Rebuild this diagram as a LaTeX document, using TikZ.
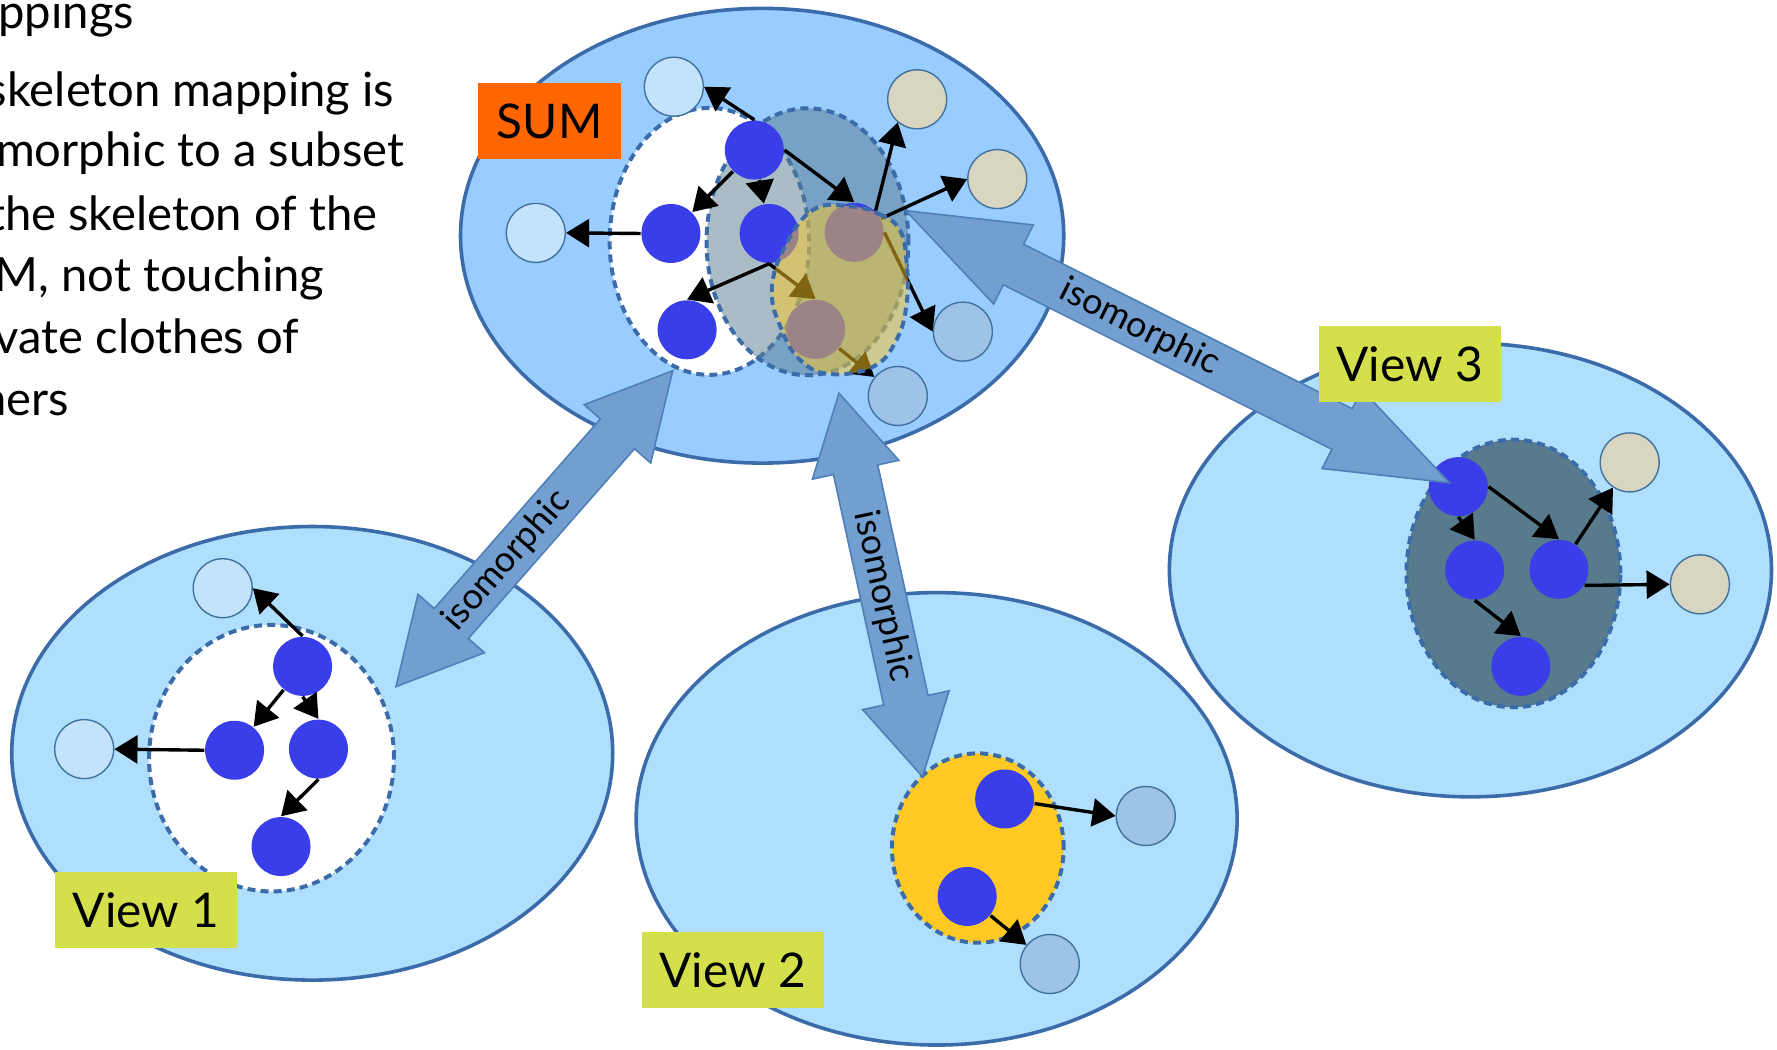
\documentclass[tikz,border=0pt]{standalone}
\usepackage{fontspec}
\setmainfont{Lato}
\usetikzlibrary{arrows.meta,calc,shapes.geometric}
\definecolor{sumfill}{HTML}{99CCFF}
\definecolor{viewfill}{HTML}{AFDFFD}
\definecolor{ellborder}{HTML}{3B6BA8}
\definecolor{isofill}{HTML}{729FCF}
\definecolor{isoborder}{HTML}{4F7FB8}
\definecolor{lightnode}{HTML}{C2E3FB}
\definecolor{tannode}{HTML}{D8D5C0}
\definecolor{mednode}{HTML}{9DC3E6}
\definecolor{bluenode}{HTML}{3A3EE8}
\definecolor{nodeborder}{HTML}{41719C}
\definecolor{darkell}{HTML}{577A8D}
\definecolor{yellowell}{HTML}{FFC925}
\definecolor{sumlab}{HTML}{FF6600}
\definecolor{viewlab}{HTML}{D4E04B}

\newcommand{\isoarrow}[3]{%
  \filldraw[isoshape] (#1)
   -- ($(#1)!#3!(#2)!0.39cm!90:(#2)$)
   -- ($(#1)!#3!(#2)!0.2cm!90:(#2)$)
   -- ($(#2)!#3!(#1)!0.2cm!-90:(#1)$)
   -- ($(#2)!#3!(#1)!0.39cm!-90:(#1)$)
   -- (#2)
   -- ($(#2)!#3!(#1)!0.39cm!90:(#1)$)
   -- ($(#2)!#3!(#1)!0.2cm!90:(#1)$)
   -- ($(#1)!#3!(#2)!0.2cm!-90:(#2)$)
   -- ($(#1)!#3!(#2)!0.39cm!-90:(#2)$)
   -- cycle;}

\begin{document}
\begin{tikzpicture}[x=0.01cm,y=-0.01cm,
  bigell/.style={ellipse, draw=ellborder, line width=0.9pt, inner sep=0pt},
  dashell/.style={ellipse, draw=ellborder, line width=1pt, dash pattern=on 2pt off 1.3pt, inner sep=0pt},
  nd/.style={circle, inner sep=0pt, minimum size=0.52cm},
  bn/.style={nd, fill=bluenode},
  ln/.style={nd, fill=lightnode, draw=nodeborder, line width=0.35pt},
  tn/.style={nd, fill=tannode, draw=nodeborder, line width=0.35pt},
  mn/.style={nd, fill=mednode, draw=nodeborder, line width=0.35pt},
  arr/.style={line width=0.85pt, -{Triangle[length=5.8pt,width=7pt]}},
  isoshape/.style={fill=isofill, draw=isoborder, line width=0.4pt},
  isolab/.style={font=\fontsize{9}{11}\selectfont, inner sep=0pt},
  labbox/.style={minimum width=1.6cm, minimum height=0.67cm, inner sep=0pt, font=\fontsize{12}{14}\selectfont},
  bodytxt/.style={anchor=base east, inner sep=0pt, font=\fontsize{11.85}{14}\selectfont}
]
\useasboundingbox (0,0) rectangle (1568,926);

% ---------- text at left ----------
\node[bodytxt] (t1) at (119,24.7) {ppings};
\node[bodytxt] (t2) at (348.5,94.4) {skeleton mapping is};
\node[bodytxt] (t3) at (357.4,147) {morphic to a subset};
\node[bodytxt] (t4) at (333.8,203) {the skeleton of the};
\node[bodytxt] (t5) at (286.8,257.4) {M, not touching};
\node[bodytxt] (t6) at (264.7,311.5) {vate clothes of};
\node[bodytxt] (t7) at (61.8,366.2) {hers};

% ---------- big ellipses ----------
\node[bigell, fill=sumfill, minimum width=5.32cm, minimum height=4.01cm] (sum) at (672.5,208) {};
\node[bigell, fill=viewfill, minimum width=5.30cm, minimum height=4.00cm] (v1) at (275.5,664.7) {};
\node[bigell, fill=viewfill, minimum width=5.30cm, minimum height=3.99cm] (v2) at (826.5,722.5) {};
\node[bigell, fill=viewfill, minimum width=5.31cm, minimum height=4.00cm] (v3) at (1297.5,503) {};

% ---------- SUM interior ----------
\node[dashell, fill=white, minimum width=1.76cm, minimum height=2.354cm] (sumw) at (626,213) {};
\node[dashell, fill=darkell, fill opacity=0.5, minimum width=1.78cm, minimum height=2.354cm] (sumg) at (712.5,213.3) {};

\node[ln] (sL1) at (594.6,76.5) {};
\node[ln] (sL2) at (472.8,205.5) {};
\node[tn] (sT1) at (809.3,87.6) {};
\node[tn] (sT2) at (880,158) {};
\node[mn] (sM1) at (849.6,292.6) {};
\node[mn] (sM2) at (792.2,349.4) {};
\node[bn] (sB1) at (665.6,132.4) {};
\node[bn] (sB2) at (592,206) {};
\node[bn] (sB3) at (678.7,206) {};
\node[bn] (sB4) at (606.3,291) {};
\node[bn] (sP1) at (753.7,205) {};
\node[bn] (sP2) at (719.7,290.6) {};

\draw[arr] (sB1.north) -- (sL1.east);
\draw[arr] (sB1) -- (sB2);
\draw[arr] (sB1) -- (sB3);
\draw[arr] (sB1.east) -- (sP1.north);
\draw[arr] (sB2.west) -- (sL2.east);
\draw[arr] (sB3.south) -- (sB4.north);
\draw[arr] (sB3.south) -- (sP2.north);
\draw[arr] (sP1.45) -- (sT1.230);
\draw[arr] (sP1.27) -- (sT2.west);
\draw[arr] (sP1.east) -- (sM1.west);
\draw[arr] (sP2) -- (sM2);

\fill[yellowell, opacity=0.5] plot[smooth cycle, tension=0.7] coordinates {(750,182) (776,189) (794,203) (800,232) (800,268) (791,300) (770.6,323.5) (732,330) (706,317.6) (689.7,291) (681,256) (692.6,217.6) (717.6,185)};
\draw[draw=ellborder, line width=1pt, dash pattern=on 2pt off 1.3pt] plot[smooth cycle, tension=0.7] coordinates {(750,182) (776,189) (794,203) (800,232) (800,268) (791,300) (770.6,323.5) (732,330) (706,317.6) (689.7,291) (681,256) (692.6,217.6) (717.6,185)};

% ---------- View 1 ----------
\node[dashell, fill=white, minimum width=2.16cm, minimum height=2.35cm] (v1w) at (239.6,669) {};
\node[ln] (aL1) at (196.5,519) {};
\node[ln] (aL2) at (74.3,661) {};
\node[bn] (aB1) at (267,588) {};
\node[bn] (aB2) at (207,662) {};
\node[bn] (aB3) at (281,661) {};
\node[bn] (aB4) at (248,747) {};
\draw[arr] (aB1.north) -- (aL1.east);
\draw[arr] (aB1) -- (aB2);
\draw[arr] (aB1.south) -- (aB3.north);
\draw[arr] (aB2.west) -- (aL2.east);
\draw[arr] (aB3.south) -- (aB4.north);

% ---------- View 2 ----------
\node[dashell, fill=yellowell, minimum width=1.514cm, minimum height=1.67cm] (v2y) at (862.8,748.3) {};
\node[bn] (bB1) at (886.5,705) {};
\node[bn] (bB2) at (853.4,791) {};
\node[mn] (bM1) at (1011,720) {};
\node[mn] (bM2) at (926.3,850.6) {};
\draw[arr] (bB1) -- (bM1.west);
\draw[arr] (bB2) -- (bM2);

% ---------- View 3 ----------
\node[dashell, fill=darkell, minimum width=1.886cm, minimum height=2.36cm] (v3d) at (1335.4,506) {};
\node[bn] (cB1) at (1286.8,429.4) {};
\node[bn] (cB2) at (1301.3,503) {};
\node[bn] (cB3) at (1375.6,502.4) {};
\node[bn] (cB4) at (1342,588) {};
\node[tn] (cT1) at (1438,408) {};
\node[tn] (cT2) at (1500,515.6) {};
\draw[arr] (cB1.east) -- (cB3.north);
\draw[arr] (cB1.south) -- (cB2.north);
\draw[arr] (cB3) -- (cT1);
\draw[arr] (cB3.-32) -- (cT2.west);
\draw[arr] (cB2.south) -- (cB4.north);

% ---------- isomorphic arrows ----------
\coordinate (a1) at (349.4,605.9);
\coordinate (a2) at (593.6,327.1);
\coordinate (b1) at (740.3,347);
\coordinate (b2) at (814,685.3);
\coordinate (c1) at (799.4,185.9);
\coordinate (c2) at (1279,426);
\isoarrow{a1}{a2}{0.74cm}
\isoarrow{b1}{b2}{0.69cm}
\isoarrow{c1}{c2}{1.06cm}
\path (a1) -- node[isolab, pos=0.40, sloped] (la) {isomorphic} (a2);
\path (b1) -- node[isolab, pos=0.53, sloped] (lb) {isomorphic} (b2);
\path (c1) -- node[isolab, pos=0.43, sloped] (lc) {isomorphic} (c2);

% ---------- labels ----------
\node[labbox, fill=sumlab, minimum width=1.26cm] (sumlabel) at (485,106.8) {SUM};
\node[labbox, fill=viewlab] (v1label) at (129,803) {View 1};
\node[labbox, fill=viewlab] (v2label) at (646.6,856) {View 2};
\node[labbox, fill=viewlab] (v3label) at (1244,321) {View 3};
\end{tikzpicture}
\end{document}
